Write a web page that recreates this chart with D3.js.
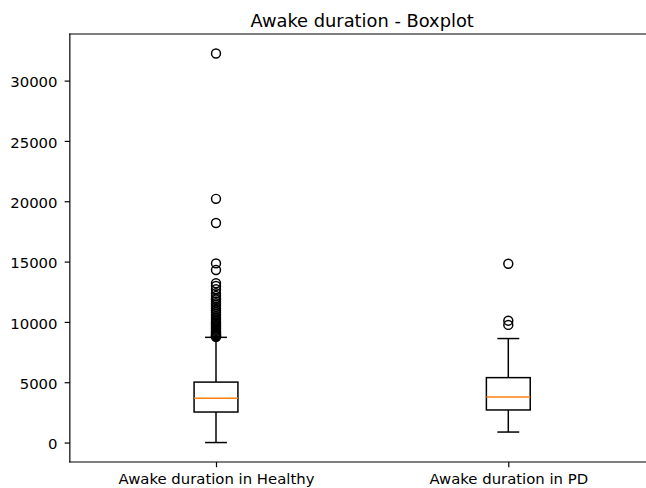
<!DOCTYPE html>
<html>
<head>
<meta charset="utf-8">
<script src="https://cdn.jsdelivr.net/npm/d3@7"></script>
<style>
  html, body { margin: 0; padding: 0; background: #fff; }
  svg { display: block; font-family: "DejaVu Sans", sans-serif; }
</style>
</head>
<body>
<svg id="chart" width="646" height="488"></svg>
<script>
// Box summaries per group (seconds awake)
const categories = ["Awake duration in Healthy", "Awake duration in PD"];
const q1 = [2530, 2700];
const median = [3670, 3780];
const q3 = [5010, 5380];
const whiskerLow = [0, 870];
const whiskerHigh = [8720, 8620];

// Points beyond the whiskers
const fliersHealthy = [32250, 20200, 18200, 14850, 14300, 13200, 12980, 12700,
  12380, 12150, 11950, 11850, 11700, 11550, 11400, 11250, 11100, 10950, 10800,
  10650, 10500, 10350, 10200, 10050, 9950, 9850, 9750, 9650, 9550, 9450, 9350,
  9250, 9150, 9080, 9000, 8940, 8880, 8830, 8790, 8760];
const fliersPD = [14820, 10100, 9750];

const yTicks = [0, 5000, 10000, 15000, 20000, 25000, 30000];

const fliers = [fliersHealthy, fliersPD];

const svg = d3.select("#chart");
const plotLeft = 69.85, plotTop = 34, plotBottom = 462, plotRight = 654.45;
const pt = 1.07 * 100 / 72;

// data limits with a 5% margin
const allVals = [].concat(whiskerLow, whiskerHigh, fliersHealthy, fliersPD);
const vmin = d3.min(allVals), vmax = d3.max(allVals);
const pad = (vmax - vmin) * 0.05;

const x = d3.scaleLinear().domain([0.5, 2.5]).range([plotLeft, plotRight]);
const y = d3.scaleLinear().domain([vmin - pad, vmax + pad]).range([plotBottom, plotTop]);

const boxW = 0.15, capW = 0.075;
const lw = 1.0 * pt;

const g = svg.append("g");

categories.forEach((c, i) => {
  const pos = i + 1;
  const cx = x(pos);
  const gb = g.append("g").attr("fill", "none").attr("stroke", "#000").attr("stroke-width", lw);
  // whiskers
  gb.append("line").attr("x1", cx).attr("x2", cx).attr("y1", y(q1[i])).attr("y2", y(whiskerLow[i]));
  gb.append("line").attr("x1", cx).attr("x2", cx).attr("y1", y(q3[i])).attr("y2", y(whiskerHigh[i]));
  // caps
  [whiskerLow[i], whiskerHigh[i]].forEach(v => {
    gb.append("line")
      .attr("x1", x(pos - capW / 2)).attr("x2", x(pos + capW / 2))
      .attr("y1", y(v)).attr("y2", y(v));
  });
  // box
  gb.append("rect")
    .attr("x", x(pos - boxW / 2)).attr("width", x(pos + boxW / 2) - x(pos - boxW / 2))
    .attr("y", y(q3[i])).attr("height", y(q1[i]) - y(q3[i]));
  // median
  g.append("line")
    .attr("x1", x(pos - boxW / 2)).attr("x2", x(pos + boxW / 2))
    .attr("y1", y(median[i])).attr("y2", y(median[i]))
    .attr("stroke", "#ff7f0e").attr("stroke-width", lw);
  // outliers
  g.append("g").selectAll("circle").data(fliers[i]).join("circle")
    .attr("cx", cx).attr("cy", d => y(d)).attr("r", 6 * pt / 2)
    .attr("fill", "none").attr("stroke", "#000").attr("stroke-width", lw);
});

// spines
const sp = svg.append("g").attr("stroke", "#000").attr("stroke-width", 0.8 * pt).attr("fill", "none");
sp.append("line").attr("x1", plotLeft).attr("x2", plotLeft).attr("y1", plotTop).attr("y2", plotBottom).attr("stroke-linecap", "square");
sp.append("line").attr("x1", plotLeft).attr("x2", plotRight).attr("y1", plotTop).attr("y2", plotTop).attr("stroke-linecap", "square");
sp.append("line").attr("x1", plotLeft).attr("x2", plotRight).attr("y1", plotBottom).attr("y2", plotBottom).attr("stroke-linecap", "square");
sp.append("line").attr("x1", plotRight).attr("x2", plotRight).attr("y1", plotTop).attr("y2", plotBottom);

const fs = 10 * pt;
const tickLen = 3.5 * pt;

// y axis
const yAxis = d3.axisLeft(y).tickValues(yTicks).tickFormat(d3.format("d"))
  .tickSize(tickLen).tickPadding(plotLeft - 57.5 - tickLen).tickSizeOuter(0);
const ya = svg.append("g").attr("transform", `translate(${plotLeft},0)`).call(yAxis);
ya.select(".domain").remove();
ya.selectAll(".tick line").attr("stroke", "#000").attr("stroke-width", 0.8 * pt);
ya.selectAll(".tick text").attr("font-size", fs).attr("font-family", "DejaVu Sans")
  .attr("fill", "#000").attr("dy", null).attr("dominant-baseline", "central").attr("y", 1.3);

// x axis
const xAxis = d3.axisBottom(x).tickValues([1, 2]).tickFormat((d, i) => categories[i])
  .tickSize(tickLen).tickPadding(3.5 * pt).tickSizeOuter(0);
const xa = svg.append("g").attr("transform", `translate(0,${plotBottom})`).call(xAxis);
xa.select(".domain").remove();
xa.selectAll(".tick line").attr("stroke", "#000").attr("stroke-width", 0.8 * pt);
xa.selectAll(".tick text").attr("font-size", fs).attr("font-family", "DejaVu Sans")
  .attr("fill", "#000").attr("dy", null).attr("y", 22.2);

// title
svg.append("text")
  .attr("x", (plotLeft + plotRight) / 2).attr("y", 26.7)
  .attr("text-anchor", "middle")
  .attr("font-size", 12 * pt).attr("fill", "#000")
  .text("Awake duration - Boxplot");
</script>
</body>
</html>
